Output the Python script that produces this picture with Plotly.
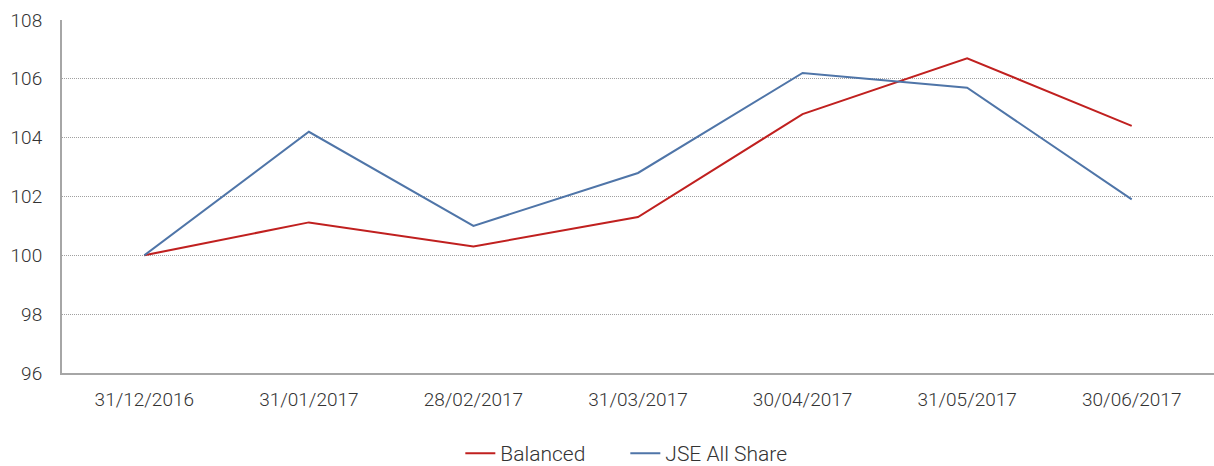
import plotly.graph_objects as go

dates = ["31/12/2016", "31/01/2017", "28/02/2017", "31/03/2017", "30/04/2017", "31/05/2017", "30/06/2017"]
balanced = [100.0, 101.12, 100.3, 101.3, 104.8, 106.7, 104.4]
jse_all_share = [100.0, 104.2, 101.0, 102.8, 106.2, 105.7, 101.9]
y_ticks = [96, 98, 100, 102, 104, 106, 108]

fig = go.Figure()
fig.add_trace(go.Scatter(x=dates, y=balanced, mode="lines", name="Balanced",
                         line=dict(color="#C0201F", width=2)))
fig.add_trace(go.Scatter(x=dates, y=jse_all_share, mode="lines", name="JSE All Share",
                         line=dict(color="#4F75A8", width=2)))

fig.update_layout(
    width=1214, height=466,
    margin=dict(l=62, r=0, t=20, b=93, autoexpand=False),
    paper_bgcolor="white", plot_bgcolor="white",
    font=dict(family="Roboto", size=19, color="#333333", weight=300),
    legend=dict(orientation="h", x=0.489, xanchor="center", y=-0.17, yanchor="top",
                font=dict(size=21, color="#333333", weight=300), tracegroupgap=0,
                entrywidth=120),
    xaxis=dict(type="category", range=[-0.5, 6.5], showgrid=False,
               showline=True, linecolor="#A6A6A6", linewidth=2,
               ticks="", tickfont=dict(size=19, weight=300), automargin=False,
               ticklabelstandoff=8),
    yaxis=dict(range=[96, 108], tickvals=y_ticks, showgrid=True,
               gridcolor="#A0A0A0", griddash="1px,1px", gridwidth=1,
               showline=True, linecolor="#A6A6A6", linewidth=2,
               ticks="", tickfont=dict(size=19, weight=300), zeroline=False,
               automargin=False, ticklabelstandoff=14),
)

fig.write_html("out.html", config={"displayModeBar": False},
               post_script="document.body.style.margin='0';document.body.style.overflow='hidden';")
